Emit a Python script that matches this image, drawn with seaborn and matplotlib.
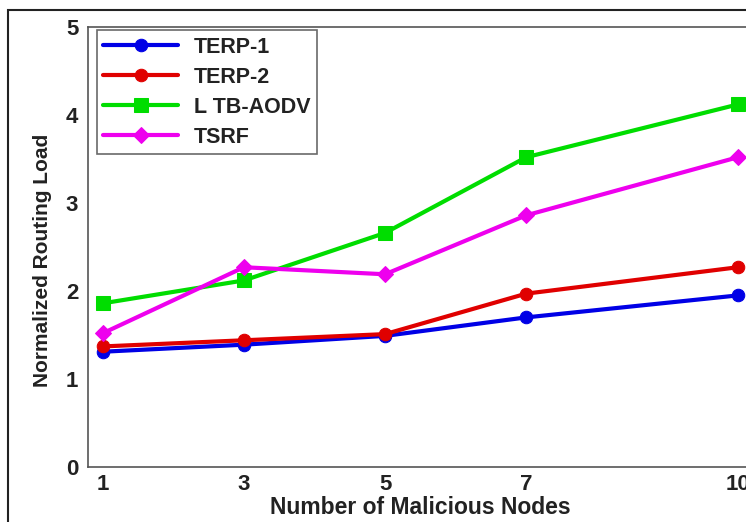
import matplotlib
matplotlib.use("Agg")
import matplotlib.pyplot as plt
import seaborn as sns
import pandas as pd
from matplotlib.patches import Rectangle

nodes = [1, 3, 5, 7, 10]
terp1 = [1.31, 1.39, 1.49, 1.70, 1.95]
terp2 = [1.37, 1.44, 1.51, 1.97, 2.27]
ltb_aodv = [1.86, 2.12, 2.66, 3.52, 4.12]
tsrf = [1.52, 2.27, 2.19, 2.86, 3.52]
series_names = ["TERP-1", "TERP-2", "L TB-AODV", "TSRF"]
y_ticks = [0, 1, 2, 3, 4, 5]

sns.set_theme(style="white")
plt.rcParams['font.family'] = ['Liberation Sans', 'DejaVu Sans']
plt.rcParams['font.weight'] = 'bold'

fig = plt.figure(figsize=(7.46, 5.22), dpi=100)
ax = fig.add_axes([88/746, 1-467/522, (752-88)/746, (467-27)/522])

colors = ["#0000e6", "#e00000", "#00dd00", "#ee00ee"]
markers = ["o", "o", "s", "D"]
msizes = [9, 9, 10, 8]
for name, vals, c, m, ms in zip(series_names, [terp1, terp2, ltb_aodv, tsrf], colors, markers, msizes):
    df = pd.DataFrame({"x": nodes, "y": vals})
    sns.lineplot(data=df, x="x", y="y", ax=ax, color=c, marker=m, markersize=ms,
                 markeredgecolor=c, linewidth=3.0, label=name)

ax.set_xlim(0.79, 10.2)
ax.set_ylim(0, 5)
ax.set_xticks(nodes)
ax.set_yticks(y_ticks)
ax.tick_params(axis='both', labelsize=16, length=3, direction='in', width=0.8,
               color='#555555', labelcolor='#222222')
for lbl in ax.get_xticklabels() + ax.get_yticklabels():
    lbl.set_fontweight('bold')
ax.tick_params(axis='x', pad=5)
ax.tick_params(axis='y', pad=7)
ax.set_xlabel("Number of Malicious Nodes", fontsize=16.5, fontweight='bold', labelpad=1,
              color='#222222')
ax.set_ylabel("Normalized Routing Load", fontsize=15, fontweight='bold',
              color='#222222')
ax.yaxis.set_label_coords(-0.054, 0.47)
for s in ax.spines.values():
    s.set_color('#555555')
    s.set_linewidth(1.2)

leg = ax.legend(loc='upper left', bbox_to_anchor=(0.013, 0.993), fontsize=15.5,
                handlelength=3.5, frameon=True, fancybox=False, borderpad=0.3,
                labelspacing=0.42, handletextpad=0.7, borderaxespad=0.0)
leg.get_frame().set_edgecolor('#444444')
leg.get_frame().set_linewidth(1.2)
for t in leg.get_texts():
    t.set_fontweight('bold')
    t.set_color('#222222')

# outer frame of the original figure
fig.patches.append(Rectangle((8/746, -0.1), 1.2, 1 - 10/522 + 0.1, transform=fig.transFigure,
                             fill=False, edgecolor='#222222', linewidth=1.5))

fig.savefig("out.png", dpi=100)
